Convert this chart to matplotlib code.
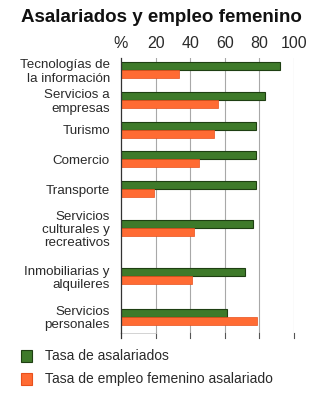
import numpy as np
import matplotlib
matplotlib.use("Agg")
import matplotlib.pyplot as plt
from matplotlib.patches import Rectangle

plt.rcParams['font.family'] = ['Liberation Sans', 'DejaVu Sans']

sectores = ['Tecnologías de\nla información', 'Servicios a\nempresas', 'Turismo',
            'Comercio', 'Transporte', 'Servicios\nculturales y\nrecreativos',
            'Inmobiliarias y\nalquileres', 'Servicios\npersonales']
asalariados = [92, 83, 78, 78, 78, 76.5, 71.5, 61.5]
empleo_fem = [33.5, 56, 53.5, 45, 19, 42, 41, 78.5]
ticks = [0, 20, 40, 60, 80, 100]
tick_labels = ['%', '20', '40', '60', '80', '100']

# layout: row centres (rows are not evenly spaced in the original)
ypos = np.array([0, 1, 2, 2.97, 3.97, 5.27, 6.87, 8.23])
h = 0.27

verde = '#3e7a2a'
naranja = '#ff6b33'

fig = plt.figure(figsize=(3.23, 4.0), dpi=100)
ax = fig.add_axes([0.3746, 0.1675, 0.5356, 0.6875])

ax.barh(ypos - h / 2, asalariados, height=h, color=verde, edgecolor='#1e3f12', linewidth=0.8)
ax.barh(ypos + h / 2, empleo_fem, height=h, color=naranja, edgecolor='#e8501c', linewidth=0.5)

ax.set_xlim(0, 100)
ax.set_ylim(8.77, -0.4)
ax.set_xticks(ticks)
ax.set_xticklabels(tick_labels, fontsize=11.5, color='#2a2a2a')
ax.xaxis.tick_top()
ax.tick_params(axis='x', length=0, pad=5)
for t in ticks[1:]:
    ax.axvline(t, color='#a8a8a8', lw=0.8, zorder=0)
    ax.plot([t, t], [8.77, 8.95], color='#555555', lw=0.8, clip_on=False)

ax.set_yticks(ypos)
ax.set_yticklabels(sectores, fontsize=9.6, linespacing=1.12, color='#2a2a2a')
ax.tick_params(axis='y', length=0, pad=8)

for s in ['top', 'right', 'bottom']:
    ax.spines[s].set_visible(False)
ax.spines['left'].set_color('#333333')
ax.spines['left'].set_linewidth(0.9)
ax.plot([0, 0], [8.77, 8.95], color='#333333', lw=0.9, clip_on=False)
ax.plot([0, 20], [8.77, 8.77], color='#cccccc', lw=0.6, clip_on=False)

fig.text(0.065, 0.957, 'Asalariados y empleo femenino', fontsize=13.5, fontweight='bold',
         va='center', ha='left', color='#111111')

# legend
for yy, col, ec, lab in [(0.11, verde, '#1e3f12', 'Tasa de asalariados'),
                         (0.053, naranja, '#e8501c', 'Tasa de empleo femenino asalariado')]:
    fig.patches.append(Rectangle((0.065, yy - 0.015), 0.034, 0.029, transform=fig.transFigure,
                                 facecolor=col, edgecolor=ec, linewidth=0.8))
    fig.text(0.138, yy, lab, fontsize=10, va='center', ha='left', color='#2a2a2a')

fig.savefig('out.png', dpi=100)
